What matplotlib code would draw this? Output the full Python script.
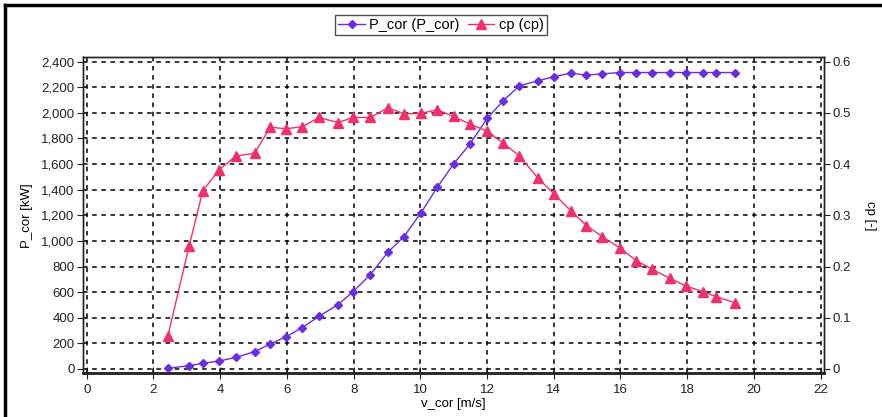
import matplotlib.pyplot as plt
from matplotlib.lines import Line2D
from matplotlib.ticker import FuncFormatter, MultipleLocator

plt.rcParams['font.family'] = ['Liberation Sans', 'DejaVu Sans']

# wind speed bins [m/s]
v_cor = [2.43, 3.07, 3.48, 3.97, 4.48, 5.03, 5.5, 5.98, 6.46, 6.97, 7.53, 7.98,
         8.5, 9.03, 9.51, 10.01, 10.51, 11.0, 11.49, 12.01, 12.48, 12.97, 13.52,
         14.02, 14.51, 14.98, 15.46, 15.99, 16.48, 16.95, 17.47, 17.96, 18.47,
         18.87, 19.44]

# corrected power [kW]
p_cor = [5, 26, 44, 62, 91, 135, 195, 252, 323, 412, 502, 602, 737, 912, 1034,
         1216, 1419, 1602, 1758, 1958, 2094, 2211, 2250, 2284, 2310, 2295, 2305,
         2315, 2315, 2315, 2315, 2315, 2315, 2315, 2315]

# power coefficient [-]
cp = [0.064, 0.240, 0.348, 0.389, 0.416, 0.421, 0.472, 0.469, 0.473, 0.491,
      0.481, 0.491, 0.491, 0.510, 0.498, 0.499, 0.506, 0.493, 0.478, 0.464,
      0.441, 0.416, 0.373, 0.341, 0.309, 0.280, 0.258, 0.236, 0.211, 0.195,
      0.177, 0.162, 0.151, 0.141, 0.129]

x_ticks = list(range(0, 23, 2))

col_p = '#6a2ee0'
col_cp = '#f0306a'

fig = plt.figure(figsize=(8.82, 4.17), dpi=100)
ax = fig.add_axes([0.0938, 0.1048, 0.8404, 0.7578])
ax2 = ax.twinx()

ax.plot(v_cor, p_cor, color=col_p, marker='D', markersize=4.5, linewidth=1, zorder=3)
ax2.plot(v_cor, cp, color=col_cp, marker='^', markersize=7, linewidth=1, zorder=3)

ax.set_xlim(-0.12, 22.1)
ax.set_ylim(-34, 2434)
ax2.set_ylim(-34 / 4000, 2434 / 4000)

ax.set_xticks(x_ticks)
ax.yaxis.set_major_locator(MultipleLocator(200))
ax.yaxis.set_major_formatter(FuncFormatter(lambda v, p: f'{v:,.0f}'))
ax2.set_yticks([0, 0.1, 0.2, 0.3, 0.4, 0.5, 0.6])
ax2.set_yticklabels(['0', '0.1', '0.2', '0.3', '0.4', '0.5', '0.6'])

ax.grid(True, color='black', linestyle=(0, (3, 3)), linewidth=1.1)
ax.set_axisbelow(True)

ax.tick_params(axis='x', direction='inout', length=8, labelsize=9.5, colors='#222222')
ax.tick_params(axis='y', direction='out', length=4, labelsize=9.5, colors='#222222', pad=2)
ax2.tick_params(axis='y', direction='out', length=4, labelsize=9.5, colors='#222222', pad=2)

for a in (ax, ax2):
    for s in a.spines.values():
        s.set_color('#222222')
        s.set_linewidth(1)
ax.spines['bottom'].set_linewidth(2)

ax.set_xlabel('v_cor [m/s]', fontsize=9.5, labelpad=2)
ax.set_ylabel('P_cor [kW]', fontsize=9.5, labelpad=6)
ax2.set_ylabel('cp [-]', fontsize=9.5, rotation=270, labelpad=18)

handles = [
    Line2D([], [], color=col_p, marker='D', markersize=4.5, linewidth=1, label='P_cor (P_cor)'),
    Line2D([], [], color=col_cp, marker='^', markersize=7, linewidth=1, label='cp (cp)'),
]
leg = fig.legend(handles=handles, loc='center', bbox_to_anchor=(0.5, 0.94), ncol=2,
                 fontsize=10.5, frameon=True, fancybox=False, handlelength=1.8,
                 handletextpad=0.3, columnspacing=0.6, borderpad=0.2)
leg.get_frame().set_edgecolor('#222222')
leg.get_frame().set_linewidth(1)

# outer frame (top and left edges)
fig.add_artist(Line2D([0.006, 1.0], [0.987, 0.987], color='black', linewidth=2.5,
                      transform=fig.transFigure))
fig.add_artist(Line2D([0.006, 0.006], [0.0, 0.987], color='black', linewidth=2.5,
                      transform=fig.transFigure))

fig.savefig('out.png', dpi=100)
